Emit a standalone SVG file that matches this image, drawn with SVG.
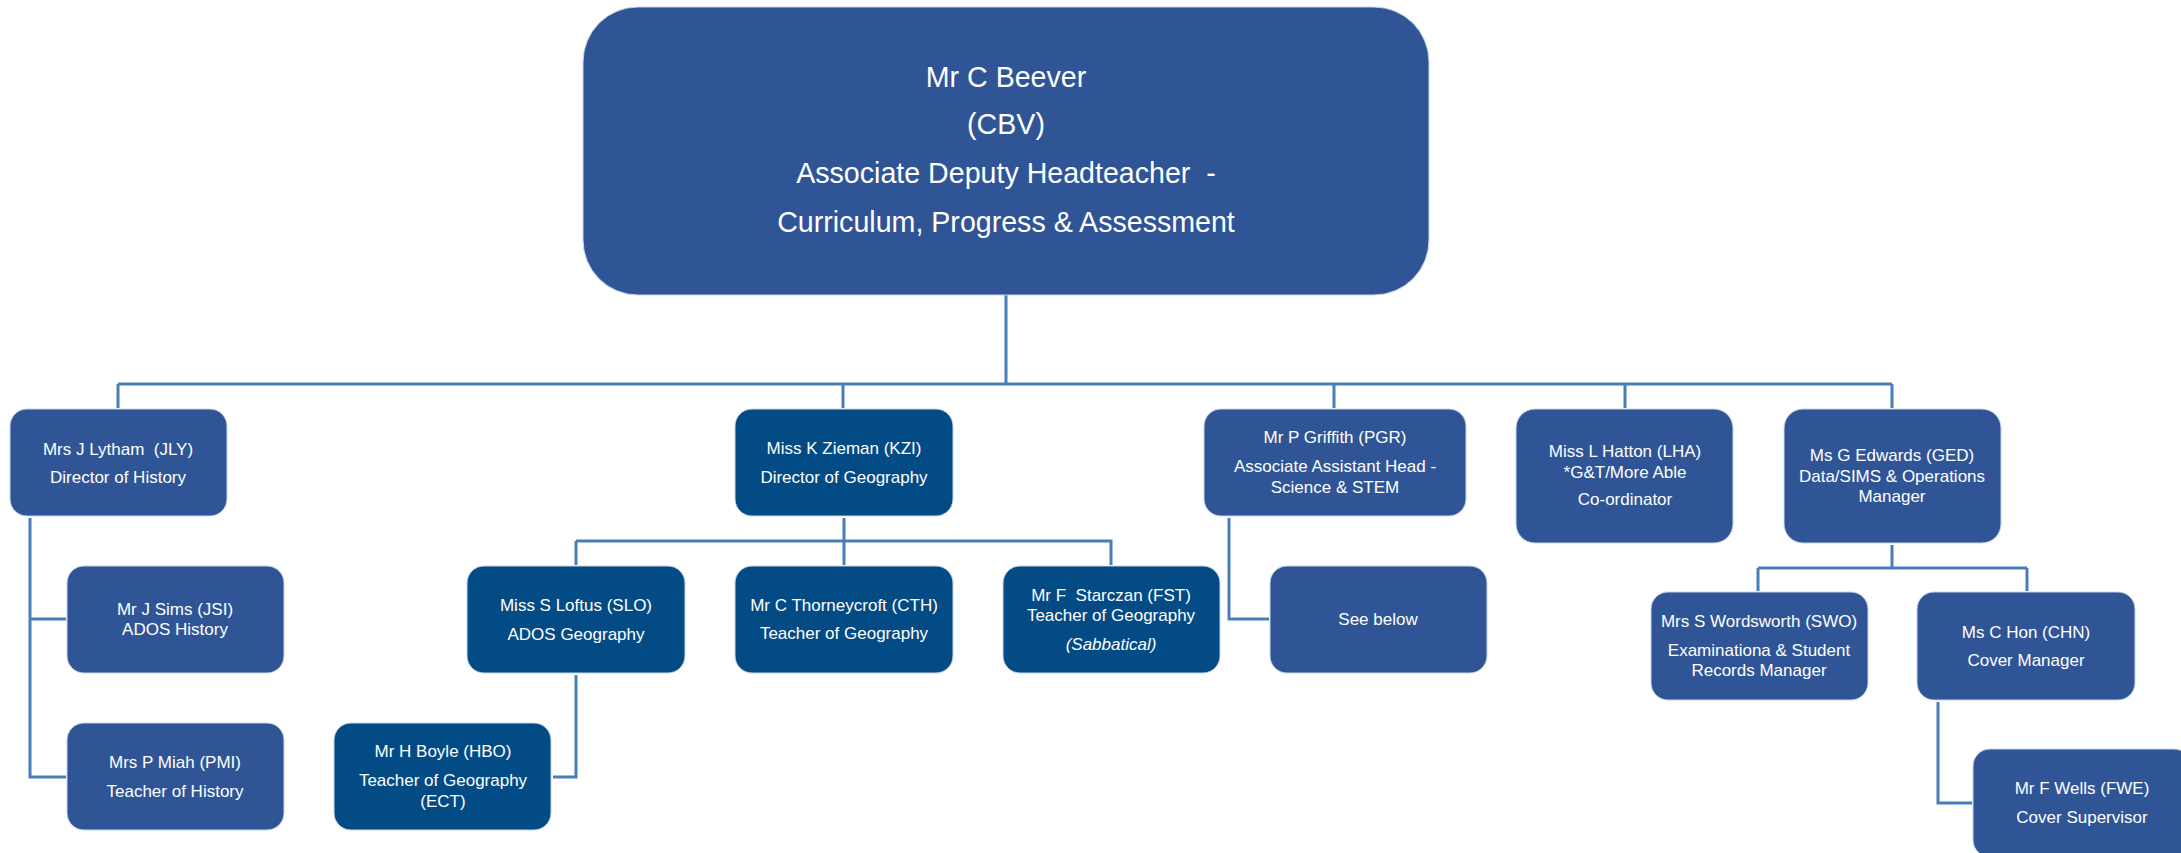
<svg xmlns="http://www.w3.org/2000/svg" width="2181" height="853" viewBox="0 0 2181 853">
<style>
.b{fill:#2F5597;stroke:#C9D6EA;stroke-width:1}
.g{fill:#034B85;stroke:#C9D6EA;stroke-width:1}
text{font-family:"Liberation Sans",Arial,sans-serif;fill:#FFFFFF;text-anchor:middle}
.t{font-size:17px}
.h{font-size:28.6px}
.c{fill:none;stroke:#4A7EBB;stroke-width:3}
</style>
<rect width="2181" height="853" fill="#FFFFFF"/>
<g id="connectors">
<path class="c" d="M1006 295V384M118 384H1892M118 384V408M843 384V408M1334 384V408M1625 384V408M1892 384V408"/>
<path class="c" d="M30 518V777H66M30 619H66"/>
<path class="c" d="M844 518V541M576 541H1111V565M576 541V565M844 541V565"/>
<path class="c" d="M576 675V777H553"/>
<path class="c" d="M1229 518V619H1269"/>
<path class="c" d="M1892 545V568M1758 568H2027M1758 568V591M2027 568V591"/>
<path class="c" d="M1938 702V803H1972"/>
</g>
<g id="cbv"><rect class="b" x="583" y="7" width="846" height="288" rx="55"/>
<text class="h" x="1006" y="87">Mr C Beever</text>
<text class="h" x="1006" y="134">(CBV)</text>
<text class="h" x="1006" y="183" xml:space="preserve">Associate Deputy Headteacher  -</text>
<text class="h" x="1006" y="232">Curriculum, Progress &amp; Assessment</text></g>
<g id="jly"><rect class="b" x="10" y="409" width="217" height="107" rx="17"/>
<text class="t" x="118" y="455" xml:space="preserve">Mrs J Lytham  (JLY)</text>
<text class="t" x="118" y="483">Director of History</text></g>
<g id="kzi"><rect class="g" x="735" y="409" width="218" height="107" rx="17"/>
<text class="t" x="844" y="454">Miss K Zieman (KZI)</text>
<text class="t" x="844" y="483">Director of Geography</text></g>
<g id="pgr"><rect class="b" x="1204" y="409" width="262" height="107" rx="17"/>
<text class="t" x="1335" y="443">Mr P Griffith (PGR)</text>
<text class="t" x="1335" y="472">Associate Assistant Head -</text>
<text class="t" x="1335" y="493">Science &amp; STEM</text></g>
<g id="lha"><rect class="b" x="1516" y="409" width="217" height="134" rx="19"/>
<text class="t" x="1625" y="457">Miss L Hatton (LHA)</text>
<text class="t" x="1625" y="478">*G&amp;T/More Able</text>
<text class="t" x="1625" y="505">Co-ordinator</text></g>
<g id="ged"><rect class="b" x="1784" y="409" width="217" height="134" rx="19"/>
<text class="t" x="1892" y="461">Ms G Edwards (GED)</text>
<text class="t" x="1892" y="482">Data/SIMS &amp; Operations</text>
<text class="t" x="1892" y="502">Manager</text></g>
<g id="jsi"><rect class="b" x="67" y="566" width="217" height="107" rx="17"/>
<text class="t" x="175" y="615">Mr J Sims (JSI)</text>
<text class="t" x="175" y="635">ADOS History</text></g>
<g id="pmi"><rect class="b" x="67" y="723" width="217" height="107" rx="17"/>
<text class="t" x="175" y="768">Mrs P Miah (PMI)</text>
<text class="t" x="175" y="797">Teacher of History</text></g>
<g id="slo"><rect class="g" x="467" y="566" width="218" height="107" rx="17"/>
<text class="t" x="576" y="611">Miss S Loftus (SLO)</text>
<text class="t" x="576" y="640">ADOS Geography</text></g>
<g id="hbo"><rect class="g" x="334" y="723" width="217" height="107" rx="17"/>
<text class="t" x="443" y="757">Mr H Boyle (HBO)</text>
<text class="t" x="443" y="786">Teacher of Geography</text>
<text class="t" x="443" y="807">(ECT)</text></g>
<g id="cth"><rect class="g" x="735" y="566" width="218" height="107" rx="17"/>
<text class="t" x="844" y="611">Mr C Thorneycroft (CTH)</text>
<text class="t" x="844" y="639">Teacher of Geography</text></g>
<g id="fst"><rect class="g" x="1003" y="566" width="217" height="107" rx="17"/>
<text class="t" x="1111" y="601" xml:space="preserve">Mr F  Starczan (FST)</text>
<text class="t" x="1111" y="621">Teacher of Geography</text>
<text class="t" x="1111" y="650" font-style="italic">(Sabbatical)</text></g>
<g id="seebelow"><rect class="b" x="1270" y="566" width="217" height="107" rx="17"/>
<text class="t" x="1378" y="625">See below</text></g>
<g id="swo"><rect class="b" x="1651" y="592" width="217" height="108" rx="17"/>
<text class="t" x="1759" y="627">Mrs S Wordsworth (SWO)</text>
<text class="t" x="1759" y="656">Examinationa &amp; Student</text>
<text class="t" x="1759" y="676">Records Manager</text></g>
<g id="chn"><rect class="b" x="1917" y="592" width="218" height="108" rx="17"/>
<text class="t" x="2026" y="638">Ms C Hon (CHN)</text>
<text class="t" x="2026" y="666">Cover Manager</text></g>
<g id="fwe"><rect class="b" x="1973" y="749" width="218" height="108" rx="17"/>
<text class="t" x="2082" y="794">Mr F Wells (FWE)</text>
<text class="t" x="2082" y="823">Cover Supervisor</text></g>
</svg>
